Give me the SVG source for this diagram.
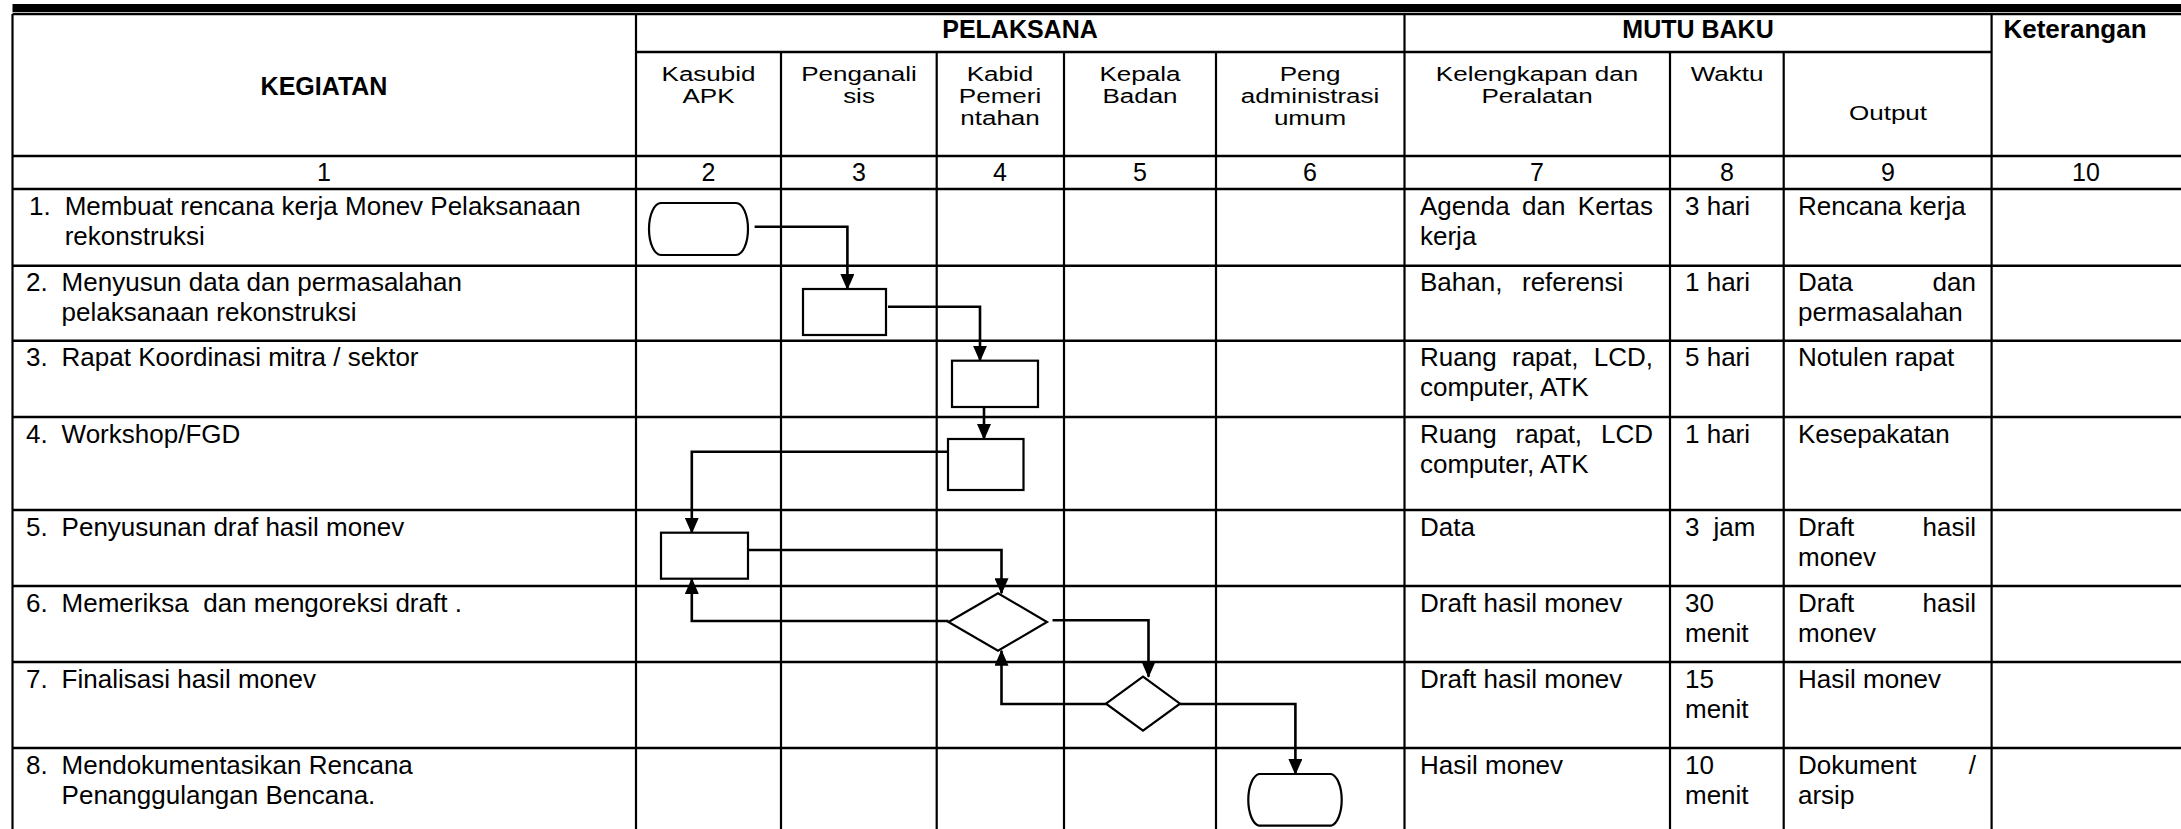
<svg xmlns="http://www.w3.org/2000/svg" width="2181" height="829" viewBox="0 0 2181 829">
<defs>
<marker id="ah" markerUnits="userSpaceOnUse" markerWidth="16" markerHeight="14" refX="15" refY="7" orient="auto">
<path d="M0,0 L16,7 L0,14 Z" fill="#000"/>
</marker>
<style>
text{font-family:"Liberation Sans",Arial,sans-serif;fill:#000;white-space:pre}
.b{font-size:25px;font-weight:bold}
.h{font-size:26px;text-anchor:middle}
.n{font-size:25px;text-anchor:middle}
.t{font-size:26px}
.e{text-anchor:end}
.hl{stroke:#000;stroke-width:2.6;fill:none}
.vl{stroke:#000;stroke-width:2.2;fill:none}
.sh{fill:#fff;stroke:#000;stroke-width:2.2}
.cn{fill:none;stroke:#000;stroke-width:2.6;marker-end:url(#ah)}
</style>
</defs>
<rect width="2181" height="829" fill="#fff"/>
<g id="grid">
<rect x="12.5" y="4" width="2169" height="8" fill="#000"/>
<path class="hl" d="M12.5,14H2181 M636,52H1991.6 M12.5,156H2181 M12.5,189H2181 M12.5,265.7H2181 M12.5,340.7H2181 M12.5,417H2181 M12.5,510H2181 M12.5,586H2181 M12.5,662H2181 M12.5,748H2181"/>
<path class="vl" d="M12.5,14V829 M636,14V829 M781,52V829 M936.7,52V829 M1064,52V829 M1216,52V829 M1404.5,14V829 M1670,52V829 M1783.7,52V829 M1991.6,14V829"/>
</g>
<g id="header">
<text class="b" x="324" y="95" text-anchor="middle">KEGIATAN</text>
<text class="b" x="1020" y="38" text-anchor="middle">PELAKSANA</text>
<text class="b" x="1698" y="38" text-anchor="middle">MUTU BAKU</text>
<text class="b" x="2075" y="38" text-anchor="middle" style="font-size:26px">Keterangan</text>
<text class="h" transform="translate(708.5,81) scale(1,0.75)">Kasubid</text><text class="h" transform="translate(708.5,103) scale(1,0.75)">APK</text>
<text class="h" transform="translate(859,81) scale(1,0.75)">Penganali</text><text class="h" transform="translate(859,103) scale(1,0.75)">sis</text>
<text class="h" transform="translate(1000,81) scale(1,0.75)">Kabid</text><text class="h" transform="translate(1000,103) scale(1,0.75)">Pemeri</text><text class="h" transform="translate(1000,125) scale(1,0.75)">ntahan</text>
<text class="h" transform="translate(1140,81) scale(1,0.75)">Kepala</text><text class="h" transform="translate(1140,103) scale(1,0.75)">Badan</text>
<text class="h" transform="translate(1310,81) scale(1,0.75)">Peng</text><text class="h" transform="translate(1310,103) scale(1,0.75)">administrasi</text><text class="h" transform="translate(1310,125) scale(1,0.75)">umum</text>
<text class="h" transform="translate(1537,81) scale(1,0.75)">Kelengkapan dan</text><text class="h" transform="translate(1537,103) scale(1,0.75)">Peralatan</text>
<text class="h" transform="translate(1727,81) scale(1,0.75)">Waktu</text>
<text class="h" transform="translate(1888,120) scale(1,0.75)">Output</text>
<text class="n" x="324" y="181">1</text>
<text class="n" x="708.5" y="181">2</text>
<text class="n" x="859" y="181">3</text>
<text class="n" x="1000" y="181">4</text>
<text class="n" x="1140" y="181">5</text>
<text class="n" x="1310" y="181">6</text>
<text class="n" x="1537" y="181">7</text>
<text class="n" x="1727" y="181">8</text>
<text class="n" x="1888" y="181">9</text>
<text class="n" x="2086" y="181">10</text>
</g>
<g id="rows">
<text class="t" x="29" y="215">1.</text><text class="t" x="64.7" y="215">Membuat rencana kerja Monev Pelaksanaan</text><text class="t" x="64.7" y="245">rekonstruksi</text>
<text class="t" x="26" y="291">2.</text><text class="t" x="61.6" y="291">Menyusun data dan permasalahan</text><text class="t" x="61.6" y="321">pelaksanaan rekonstruksi</text>
<text class="t" x="26" y="366">3.</text><text class="t" x="61.6" y="366">Rapat Koordinasi mitra / sektor</text>
<text class="t" x="26" y="442.5">4.</text><text class="t" x="61.6" y="442.5">Workshop/FGD</text>
<text class="t" x="26" y="535.5">5.</text><text class="t" x="61.6" y="535.5">Penyusunan draf hasil monev</text>
<text class="t" x="26" y="611.5">6.</text><text class="t" x="61.6" y="611.5">Memeriksa  dan mengoreksi draft .</text>
<text class="t" x="26" y="687.5">7.</text><text class="t" x="61.6" y="687.5">Finalisasi hasil monev</text>
<text class="t" x="26" y="773.5">8.</text><text class="t" x="61.6" y="773.5">Mendokumentasikan Rencana</text><text class="t" x="61.6" y="803.5">Penanggulangan Bencana.</text>
</g>
<g id="mutu">
<text class="t" x="1420" y="215">Agenda</text><text class="t" x="1522" y="215">dan</text><text class="t e" x="1653" y="215">Kertas</text><text class="t" x="1420" y="245">kerja</text>
<text class="t" x="1420" y="291">Bahan,</text><text class="t" x="1522" y="291">referensi</text>
<text class="t" x="1420" y="366">Ruang</text><text class="t" x="1512" y="366">rapat,</text><text class="t e" x="1653" y="366">LCD,</text><text class="t" x="1420" y="396">computer, ATK</text>
<text class="t" x="1420" y="442.5">Ruang</text><text class="t" x="1515.6" y="442.5">rapat,</text><text class="t e" x="1653" y="442.5">LCD</text><text class="t" x="1420" y="472.5">computer, ATK</text>
<text class="t" x="1420" y="535.5">Data</text>
<text class="t" x="1420" y="611.5">Draft hasil monev</text>
<text class="t" x="1420" y="687.5">Draft hasil monev</text>
<text class="t" x="1420" y="773.5">Hasil monev</text>
<text class="t" x="1685" y="215">3 hari</text>
<text class="t" x="1685" y="291">1 hari</text>
<text class="t" x="1685" y="366">5 hari</text>
<text class="t" x="1685" y="442.5">1 hari</text>
<text class="t" x="1685" y="535.5">3</text><text class="t" x="1713.6" y="535.5">jam</text>
<text class="t" x="1685" y="611.5">30</text><text class="t" x="1685" y="641.5">menit</text>
<text class="t" x="1685" y="687.5">15</text><text class="t" x="1685" y="717.5">menit</text>
<text class="t" x="1685" y="773.5">10</text><text class="t" x="1685" y="803.5">menit</text>
<text class="t" x="1798" y="215">Rencana kerja</text>
<text class="t" x="1798" y="291">Data</text><text class="t e" x="1976" y="291">dan</text><text class="t" x="1798" y="321">permasalahan</text>
<text class="t" x="1798" y="366">Notulen rapat</text>
<text class="t" x="1798" y="442.5">Kesepakatan</text>
<text class="t" x="1798" y="535.5">Draft</text><text class="t e" x="1976" y="535.5">hasil</text><text class="t" x="1798" y="565.5">monev</text>
<text class="t" x="1798" y="611.5">Draft</text><text class="t e" x="1976" y="611.5">hasil</text><text class="t" x="1798" y="641.5">monev</text>
<text class="t" x="1798" y="687.5">Hasil monev</text>
<text class="t" x="1798" y="773.5">Dokument</text><text class="t e" x="1976" y="773.5">/</text><text class="t" x="1798" y="803.5">arsip</text>
</g>
<g id="connectors">
<path class="cn" d="M754.6,226.7H847.4V289"/>
<path class="cn" d="M888,306.7H980V360.7"/>
<path class="cn" d="M984,407V439"/>
<path class="cn" d="M948,451.7H691.8V532.7"/>
<path class="cn" d="M748,550H1001.5V593.3"/>
<path class="cn" d="M948.5,621H691.8V579"/>
<path class="cn" d="M1052.5,620.3H1148.5V676.7"/>
<path class="cn" d="M1106,704H1001.5V650.7"/>
<path class="cn" d="M1180,704H1295.4V774"/>
</g>
<g id="n1"><path class="sh" d="M661,203H736A12,26 0 0 1 736,255H661A12,26 0 0 1 661,203Z"/></g>
<g id="n2"><rect class="sh" x="803" y="289" width="83" height="46"/></g>
<g id="n3"><rect class="sh" x="952" y="360.7" width="86" height="46.3"/></g>
<g id="n4"><rect class="sh" x="948" y="439" width="75.5" height="51"/></g>
<g id="n5"><rect class="sh" x="661" y="532.7" width="87" height="46"/></g>
<g id="n6"><path class="sh" d="M948.5,622L998,593.3L1047,622L998,650.7Z"/></g>
<g id="n7"><path class="sh" d="M1106,703.7L1143,676.7L1180,703.7L1143,730.7Z"/></g>
<g id="n8"><path class="sh" d="M1259,774H1331A12,26 0 0 1 1331,825.7H1259A12,26 0 0 1 1259,774Z"/></g>
</svg>
